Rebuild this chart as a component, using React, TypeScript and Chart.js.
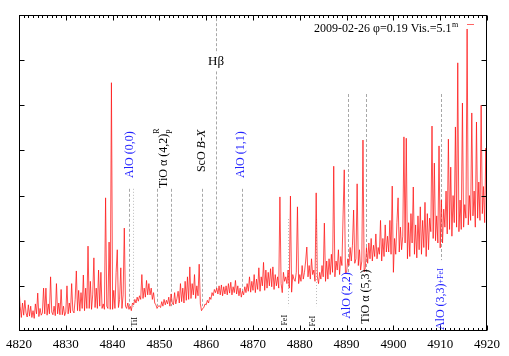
import React, { useEffect, useRef } from "react";
import { Chart, registerables } from "chart.js";

Chart.register(...registerables);

// Spectrum sampling grid (Angstrom)
const WAVE_START = 4820;
const WAVE_STEP = 0.25;
// Relative flux, one value per 0.25 A from 4820 to 4920
const FLUX = [
  0.98, 0.55, 0.30, 0.62, 0.35, 0.68, 0.40, 0.31, 0.58, 0.33, 0.55, 0.30, 0.45, 0.28, 0.60, 0.38,
  0.84, 0.32, 0.50, 0.35, 0.40, 0.95, 0.38, 0.95, 0.35, 0.60, 0.38, 1.20, 0.42, 0.36, 0.55, 0.34,
  1.05, 0.38, 0.62, 0.36, 0.92, 0.36, 0.55, 0.34, 0.42, 1.00, 0.38, 0.62, 0.40, 1.05, 0.45, 0.40,
  0.70, 1.33, 0.45, 0.90, 0.44, 0.85, 0.50, 1.24, 0.45, 0.95, 0.50, 1.88, 0.50, 1.10, 0.48, 0.80,
  1.62, 0.52, 0.95, 0.50, 1.35, 0.55, 1.30, 0.50, 0.60, 0.48, 2.95, 0.55, 0.50, 1.97, 0.48, 5.50,
  0.48, 0.90, 0.50, 1.30, 1.80, 0.52, 0.70, 1.40, 0.50, 0.80, 2.28, 0.55, 0.50, 0.62, 0.48, 0.55,
  0.45, 0.62, 0.58, 0.70, 0.62, 0.75, 0.66, 0.78, 0.70, 1.25, 0.72, 0.95, 0.75, 1.12, 0.80, 1.05,
  0.80, 0.95, 0.70, 0.85, 0.62, 0.58, 0.50, 0.55, 0.56, 0.52, 0.65, 0.55, 0.70, 0.58, 0.68, 0.60,
  0.75, 0.55, 0.82, 0.62, 0.58, 0.85, 0.60, 0.72, 0.88, 0.62, 1.05, 0.65, 0.95, 0.62, 1.10, 0.68,
  1.20, 0.70, 1.42, 0.72, 1.05, 0.80, 1.25, 0.72, 1.00, 0.78, 1.48, 0.60, 0.45, 0.50, 0.52, 0.60,
  0.58, 0.68, 0.62, 0.75, 0.70, 0.85, 0.78, 0.92, 0.85, 0.95, 0.82, 1.00, 0.80, 1.02, 0.78, 0.98,
  0.82, 1.00, 0.80, 1.05, 0.84, 1.08, 0.80, 0.98, 0.85, 1.12, 0.82, 1.00, 0.78, 0.95, 0.75, 0.88,
  0.80, 0.98, 0.85, 1.05, 0.88, 1.20, 0.86, 1.10, 0.90, 1.25, 0.85, 1.15, 0.92, 1.40, 0.88, 1.20,
  1.00, 1.52, 0.90, 1.35, 0.95, 1.30, 1.00, 1.38, 0.98, 1.42, 0.92, 1.25, 1.00, 1.20, 0.95, 2.97,
  1.05, 0.85, 1.30, 1.10, 1.20, 1.05, 1.35, 0.95, 2.99, 0.86, 1.25, 1.15, 1.10, 1.30, 2.75, 1.05,
  1.25, 1.10, 1.45, 1.15, 1.30, 1.55, 1.86, 1.20, 1.45, 1.15, 1.60, 1.25, 1.35, 1.10, 3.06, 1.20,
  1.05, 1.30, 1.15, 1.45, 1.20, 2.39, 1.10, 1.55, 1.15, 1.60, 1.25, 1.70, 1.30, 3.65, 1.20, 1.55,
  1.35, 1.80, 1.25, 1.65, 1.45, 2.57, 3.57, 1.28, 1.30, 1.60, 1.45, 1.85, 1.55, 1.90, 2.68, 1.50,
  1.60, 3.26, 1.45, 1.80, 1.35, 1.55, 4.23, 1.31, 1.40, 1.85, 1.50, 1.95, 1.60, 2.05, 1.55, 1.90,
  1.65, 2.15, 1.60, 1.85, 1.70, 2.45, 1.55, 2.05, 1.65, 2.35, 1.75, 2.10, 1.75, 2.45, 1.70, 3.21,
  1.30, 2.05, 1.70, 2.40, 2.95, 1.75, 2.30, 1.80, 2.10, 4.30, 1.95, 4.27, 1.60, 2.40, 1.65, 2.60,
  1.95, 3.19, 1.70, 2.35, 1.62, 2.55, 1.80, 2.75, 1.70, 2.45, 1.85, 2.85, 1.65, 2.60, 1.80, 2.50,
  2.20, 4.54, 2.05, 3.72, 2.00, 2.55, 1.95, 4.10, 1.84, 2.90, 1.95, 2.70, 2.30, 3.10, 2.15, 4.25,
  2.25, 3.63, 2.10, 3.00, 2.40, 4.52, 2.30, 5.94, 2.20, 2.90, 2.25, 5.05, 2.30, 2.80, 2.50, 6.69,
  2.35, 3.00, 2.45, 4.83, 2.55, 3.10, 2.30, 4.63, 2.50, 3.30, 2.45, 5.00, 2.60, 3.20, 2.40, 4.05,
  2.20,
];

const X_MIN = 4820;
const X_MAX = 4920;
const X_TICK_LABELS = [4820, 4830, 4840, 4850, 4860, 4870, 4880, 4890, 4900, 4910, 4920];
const Y_MIN = 0;
const Y_MAX = 7;

// Identification markers (wavelength, top, bottom of dashed line)
const LINE_WAVES = [4843.5, 4844.3, 4849.5, 4852.4, 4859.0, 4862.1, 4862.1, 4867.6, 4877.5, 4883.4, 4890.2, 4894.2, 4910.1];
const LINE_TOPS = [3.15, 3.15, 3.15, 3.15, 3.15, 6.93, 5.75, 3.15, 2.48, 2.48, 5.25, 5.25, 5.25];
const LINE_BOTTOMS = [0.55, 0.5, 0.55, 0.55, 0.55, 6.15, 0.9, 0.84, 0.55, 0.55, 1.28, 1.28, 1.57];
const LINE_DOTTED = [false, true, false, false, false, false, false, false, true, true, false, false, false];

const TITLE = "2009-02-26 \u03c6=0.19 Vis.=5.1";
const TITLE_SUP = "m";

const SERIF = '"Liberation Serif", "Times New Roman", serif';
const BLUE = "#2323ff";

type Part = { text: string; size: number; color: string; italic?: boolean; dy?: number; noAdvance?: boolean };
// Rotated labels: wavelength of centre, value of bottom start
const ROT_LABELS: { wave: number; base: number; parts: Part[] }[] = [
  { wave: 4843.7, base: 3.39, parts: [{ text: "AlO (0,0)", size: 12, color: BLUE }] },
  {
    wave: 4850.9,
    base: 3.17,
    parts: [
      { text: "TiO \u03b1 (4,2)", size: 12, color: "#000" },
      { text: "R", size: 8, color: "#000", dy: -7, noAdvance: true },
      { text: "P", size: 8, color: "#000", dy: 6 },
    ],
  },
  {
    wave: 4859.1,
    base: 3.52,
    parts: [
      { text: "ScO ", size: 12, color: "#000" },
      { text: "B-X", size: 12, color: "#000", italic: true },
    ],
  },
  { wave: 4867.4, base: 3.39, parts: [{ text: "AlO (1,1)", size: 12, color: BLUE }] },
  { wave: 4844.7, base: 0.1, parts: [{ text: "TiI", size: 8, color: "#000" }] },
  { wave: 4876.9, base: 0.12, parts: [{ text: "FeI", size: 8, color: "#000" }] },
  { wave: 4882.8, base: 0.1, parts: [{ text: "FeI", size: 8, color: "#000" }] },
  { wave: 4890.0, base: 0.27, parts: [{ text: "AlO (2,2)", size: 12, color: BLUE }] },
  { wave: 4894.2, base: 0.16, parts: [{ text: "TiO \u03b1 (5,3)", size: 12, color: "#000" }] },
  {
    wave: 4910.1,
    base: 0.02,
    parts: [
      { text: "AlO (3,3)", size: 12, color: BLUE },
      { text: "+FeI", size: 8, color: BLUE },
    ],
  },
];

const HBETA_WAVE = 4862.1;
const HBETA_Y = 5.96;

function font(size: number, italic?: boolean) {
  return `${italic ? "italic " : ""}${size}px ${SERIF}`;
}

const decorPlugin = {
  id: "decor",
  beforeDatasetsDraw(chart: any) {
    const ctx = chart.ctx as CanvasRenderingContext2D;
    const xs = chart.scales.x;
    const ys = chart.scales.y;
    ctx.save();
    ctx.lineWidth = 1;
    for (let i = 0; i < LINE_WAVES.length; i++) {
      const px = Math.round(xs.getPixelForValue(LINE_WAVES[i])) + 0.5;
      ctx.strokeStyle = LINE_DOTTED[i] ? "#bcbcbc" : "#a8a8a8";
      ctx.setLineDash(LINE_DOTTED[i] ? [1, 2] : [3, 2]);
      ctx.beginPath();
      ctx.moveTo(px, ys.getPixelForValue(LINE_TOPS[i]));
      ctx.lineTo(px, ys.getPixelForValue(LINE_BOTTOMS[i]));
      ctx.stroke();
    }
    ctx.restore();
  },
  afterDatasetsDraw(chart: any) {
    const ctx = chart.ctx as CanvasRenderingContext2D;
    const xs = chart.scales.x;
    const ys = chart.scales.y;
    const a = chart.chartArea;
    ctx.save();
    ctx.strokeStyle = "#000";
    ctx.lineWidth = 1;
    ctx.setLineDash([]);
    const L = Math.round(a.left) + 0.5;
    const R = Math.round(a.right) - 0.5;
    const T = Math.round(a.top) + 0.5;
    const B = Math.round(a.bottom) - 0.5;
    ctx.strokeRect(L, T, R - L, B - T);
    ctx.beginPath();
    for (let v = X_MIN; v <= X_MAX; v += 1) {
      const px = Math.round(xs.getPixelForValue(v)) + 0.5;
      const len = v % 10 === 0 ? 5 : 2.5;
      ctx.moveTo(px, B);
      ctx.lineTo(px, B - len);
      ctx.moveTo(px, T);
      ctx.lineTo(px, T + len);
    }
    for (let v = Y_MIN + 1; v < Y_MAX; v += 1) {
      const py = Math.round(ys.getPixelForValue(v)) + 0.5;
      ctx.moveTo(L, py);
      ctx.lineTo(L + 5, py);
      ctx.moveTo(R, py);
      ctx.lineTo(R - 5, py);
    }
    ctx.stroke();

    for (const lab of ROT_LABELS) {
      const px = xs.getPixelForValue(lab.wave);
      const py = ys.getPixelForValue(lab.base);
      ctx.save();
      ctx.translate(px, py);
      ctx.rotate(-Math.PI / 2);
      ctx.textAlign = "left";
      ctx.textBaseline = "middle";
      let cx = 0;
      let pending = 0;
      for (const p of lab.parts) {
        ctx.font = font(p.size, p.italic);
        ctx.fillStyle = p.color;
        ctx.fillText(p.text, cx, p.dy || 0);
        const w = ctx.measureText(p.text).width;
        if (p.noAdvance) {
          pending = Math.max(pending, w);
        } else {
          cx += Math.max(w, pending);
          pending = 0;
        }
      }
      ctx.restore();
    }

    ctx.font = font(13);
    ctx.fillStyle = "#000";
    ctx.textAlign = "center";
    ctx.textBaseline = "middle";
    ctx.fillText("H\u03b2", xs.getPixelForValue(HBETA_WAVE), ys.getPixelForValue(HBETA_Y));

    ctx.textAlign = "left";
    ctx.textBaseline = "alphabetic";
    ctx.font = font(12);
    const tx = 314;
    const ty = 32;
    ctx.fillText(TITLE, tx, ty);
    const tw = ctx.measureText(TITLE).width;
    ctx.font = font(8);
    ctx.fillText(TITLE_SUP, tx + tw + 0.5, ty - 5);
    ctx.strokeStyle = "rgb(255,60,60)";
    ctx.lineWidth = 0.8;
    ctx.beginPath();
    ctx.moveTo(467, 24.5);
    ctx.lineTo(474, 24.5);
    ctx.stroke();
    ctx.restore();
  },
};

export default function App() {
  const ref = useRef<HTMLCanvasElement | null>(null);
  useEffect(() => {
    document.body.style.margin = "0";
    const canvas = ref.current;
    if (!canvas) return;
    const data = FLUX.map((v, i) => ({ x: WAVE_START + i * WAVE_STEP, y: v }));
    const chart = new Chart(canvas, {
      type: "line",
      data: {
        datasets: [
          {
            label: TITLE,
            data,
            borderColor: "rgb(255,20,20)",
            borderWidth: 0.75,
            pointRadius: 0,
            tension: 0,
            fill: false,
          },
        ],
      },
      options: {
        animation: false,
        responsive: false,
        devicePixelRatio: 1,
        layout: { padding: { left: 14, right: 22, top: 15, bottom: 0 } },
        plugins: { legend: { display: false }, tooltip: { enabled: false }, title: { display: false } },
        scales: {
          x: {
            type: "linear",
            min: X_MIN,
            max: X_MAX,
            afterBuildTicks: (scale: any) => {
              scale.ticks = X_TICK_LABELS.map((v) => ({ value: v }));
            },
            afterFit: (scale: any) => {
              scale.height = 25;
            },
            grid: { display: false, drawTicks: false },
            border: { display: false },
            ticks: {
              autoSkip: false,
              maxRotation: 0,
              padding: 6,
              color: "#000",
              font: { family: SERIF, size: 13 },
              callback: (v: any) => String(v),
            },
          },
          y: {
            display: false,
            min: Y_MIN,
            max: Y_MAX,
          },
        },
      },
      plugins: [decorPlugin],
    } as any);
    return () => chart.destroy();
  }, []);
  return (
    <div style={{ position: "absolute", left: 0, top: 0, width: 509, height: 356 }}>
      <canvas ref={ref} width={509} height={356} style={{ display: "block", width: 509, height: 356 }} />
    </div>
  );
}
